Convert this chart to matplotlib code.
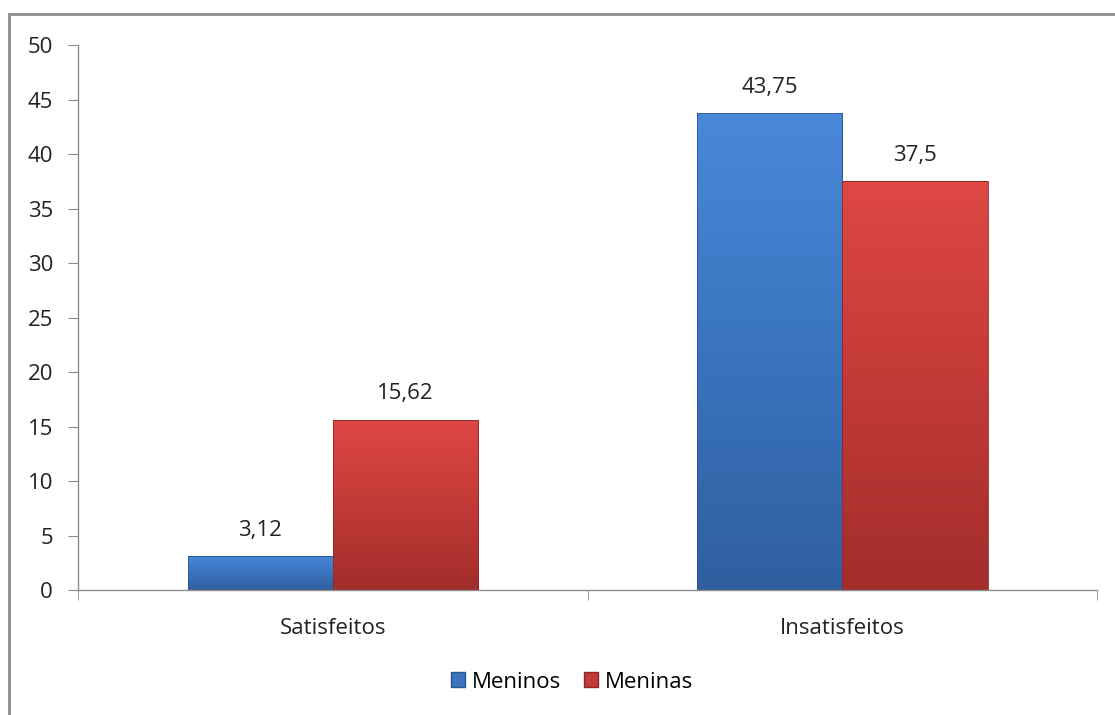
import matplotlib
matplotlib.use("Agg")
import matplotlib.pyplot as plt
import numpy as np
from matplotlib.colors import LinearSegmentedColormap
from matplotlib.patches import Rectangle

categories = ["Satisfeitos", "Insatisfeitos"]
meninos = [3.12, 43.75]
meninas = [15.62, 37.5]
labels_meninos = ["3,12", "43,75"]
labels_meninas = ["15,62", "37,5"]
yticks = [0, 5, 10, 15, 20, 25, 30, 35, 40, 45, 50]

plt.rcParams["font.family"] = ["Open Sans", "DejaVu Sans"]
FS = 16

fig = plt.figure(figsize=(11.15, 7.15), dpi=100)
ax = fig.add_axes([0.07, 0.1748, 0.9139, 0.7622])

# outer chart frame (cut off at right and bottom like the source)
fig.patches.append(Rectangle((9 / 1115, -0.05), 1.2, 1 - 14 / 715 + 0.05,
                             transform=fig.transFigure, fill=False,
                             edgecolor="#8c8c8c", linewidth=2))

x = np.arange(len(categories))
width = 0.285

blue_cmap = LinearSegmentedColormap.from_list("b", ["#2f5f9f", "#3a74bf", "#4a88d8"])
red_cmap = LinearSegmentedColormap.from_list("r", ["#a22d2b", "#c23a37", "#de4744"])


def gradient_bars(xs, vals, cmap, edge):
    bars = ax.bar(xs, vals, width, color="none", edgecolor=edge, linewidth=0.6, zorder=3)
    grad = np.linspace(0, 1, 256).reshape(-1, 1)
    for b in bars:
        x0, y0 = b.get_x(), b.get_y()
        im = ax.imshow(grad, cmap=cmap, aspect="auto", origin="lower",
                       extent=[x0, x0 + b.get_width(), y0, y0 + b.get_height()], zorder=2)
        im.set_clip_path(b)
    return bars


bars_m = gradient_bars(x - width / 2, meninos, blue_cmap, "#2a5690")
bars_f = gradient_bars(x + width / 2, meninas, red_cmap, "#8e2826")

for b, lab in zip(bars_m, labels_meninos):
    ax.annotate(lab, (b.get_x() + b.get_width() / 2, b.get_height()), xytext=(0, 11),
                textcoords="offset points", ha="center", va="bottom", fontsize=FS, color="#222222")
for b, lab in zip(bars_f, labels_meninas):
    ax.annotate(lab, (b.get_x() + b.get_width() / 2, b.get_height()), xytext=(0, 11),
                textcoords="offset points", ha="center", va="bottom", fontsize=FS, color="#222222")

ax.set_xlim(-0.5, 1.5)
ax.set_ylim(0, 50)
ax.set_yticks(yticks)
ax.set_xticks(x)
ax.set_xticklabels(categories)
ax.set_xticks([-0.5, 0.5, 1.5], minor=True)

for s in ["top", "right"]:
    ax.spines[s].set_visible(False)
for s in ["left", "bottom"]:
    ax.spines[s].set_color("#8c8c8c")
    ax.spines[s].set_linewidth(1)

ax.tick_params(axis="y", length=7, color="#8c8c8c", labelsize=FS, labelcolor="#222222", pad=11)
ax.tick_params(axis="x", which="major", length=0, labelsize=FS, labelcolor="#222222", pad=20)
ax.tick_params(axis="x", which="minor", length=7, color="#8c8c8c")

handles = [Rectangle((0, 0), 1, 1, facecolor="#3a74bf", edgecolor="#2a5690"),
           Rectangle((0, 0), 1, 1, facecolor="#c23a37", edgecolor="#8e2826")]
fig.legend(handles, ["Meninos", "Meninas"], loc="center", bbox_to_anchor=(0.513, 0.046),
           ncol=2, frameon=False, fontsize=FS, handlelength=0.65, handleheight=0.65,
           handletextpad=0.3, columnspacing=1.0)

fig.savefig("out.png", dpi=100)
